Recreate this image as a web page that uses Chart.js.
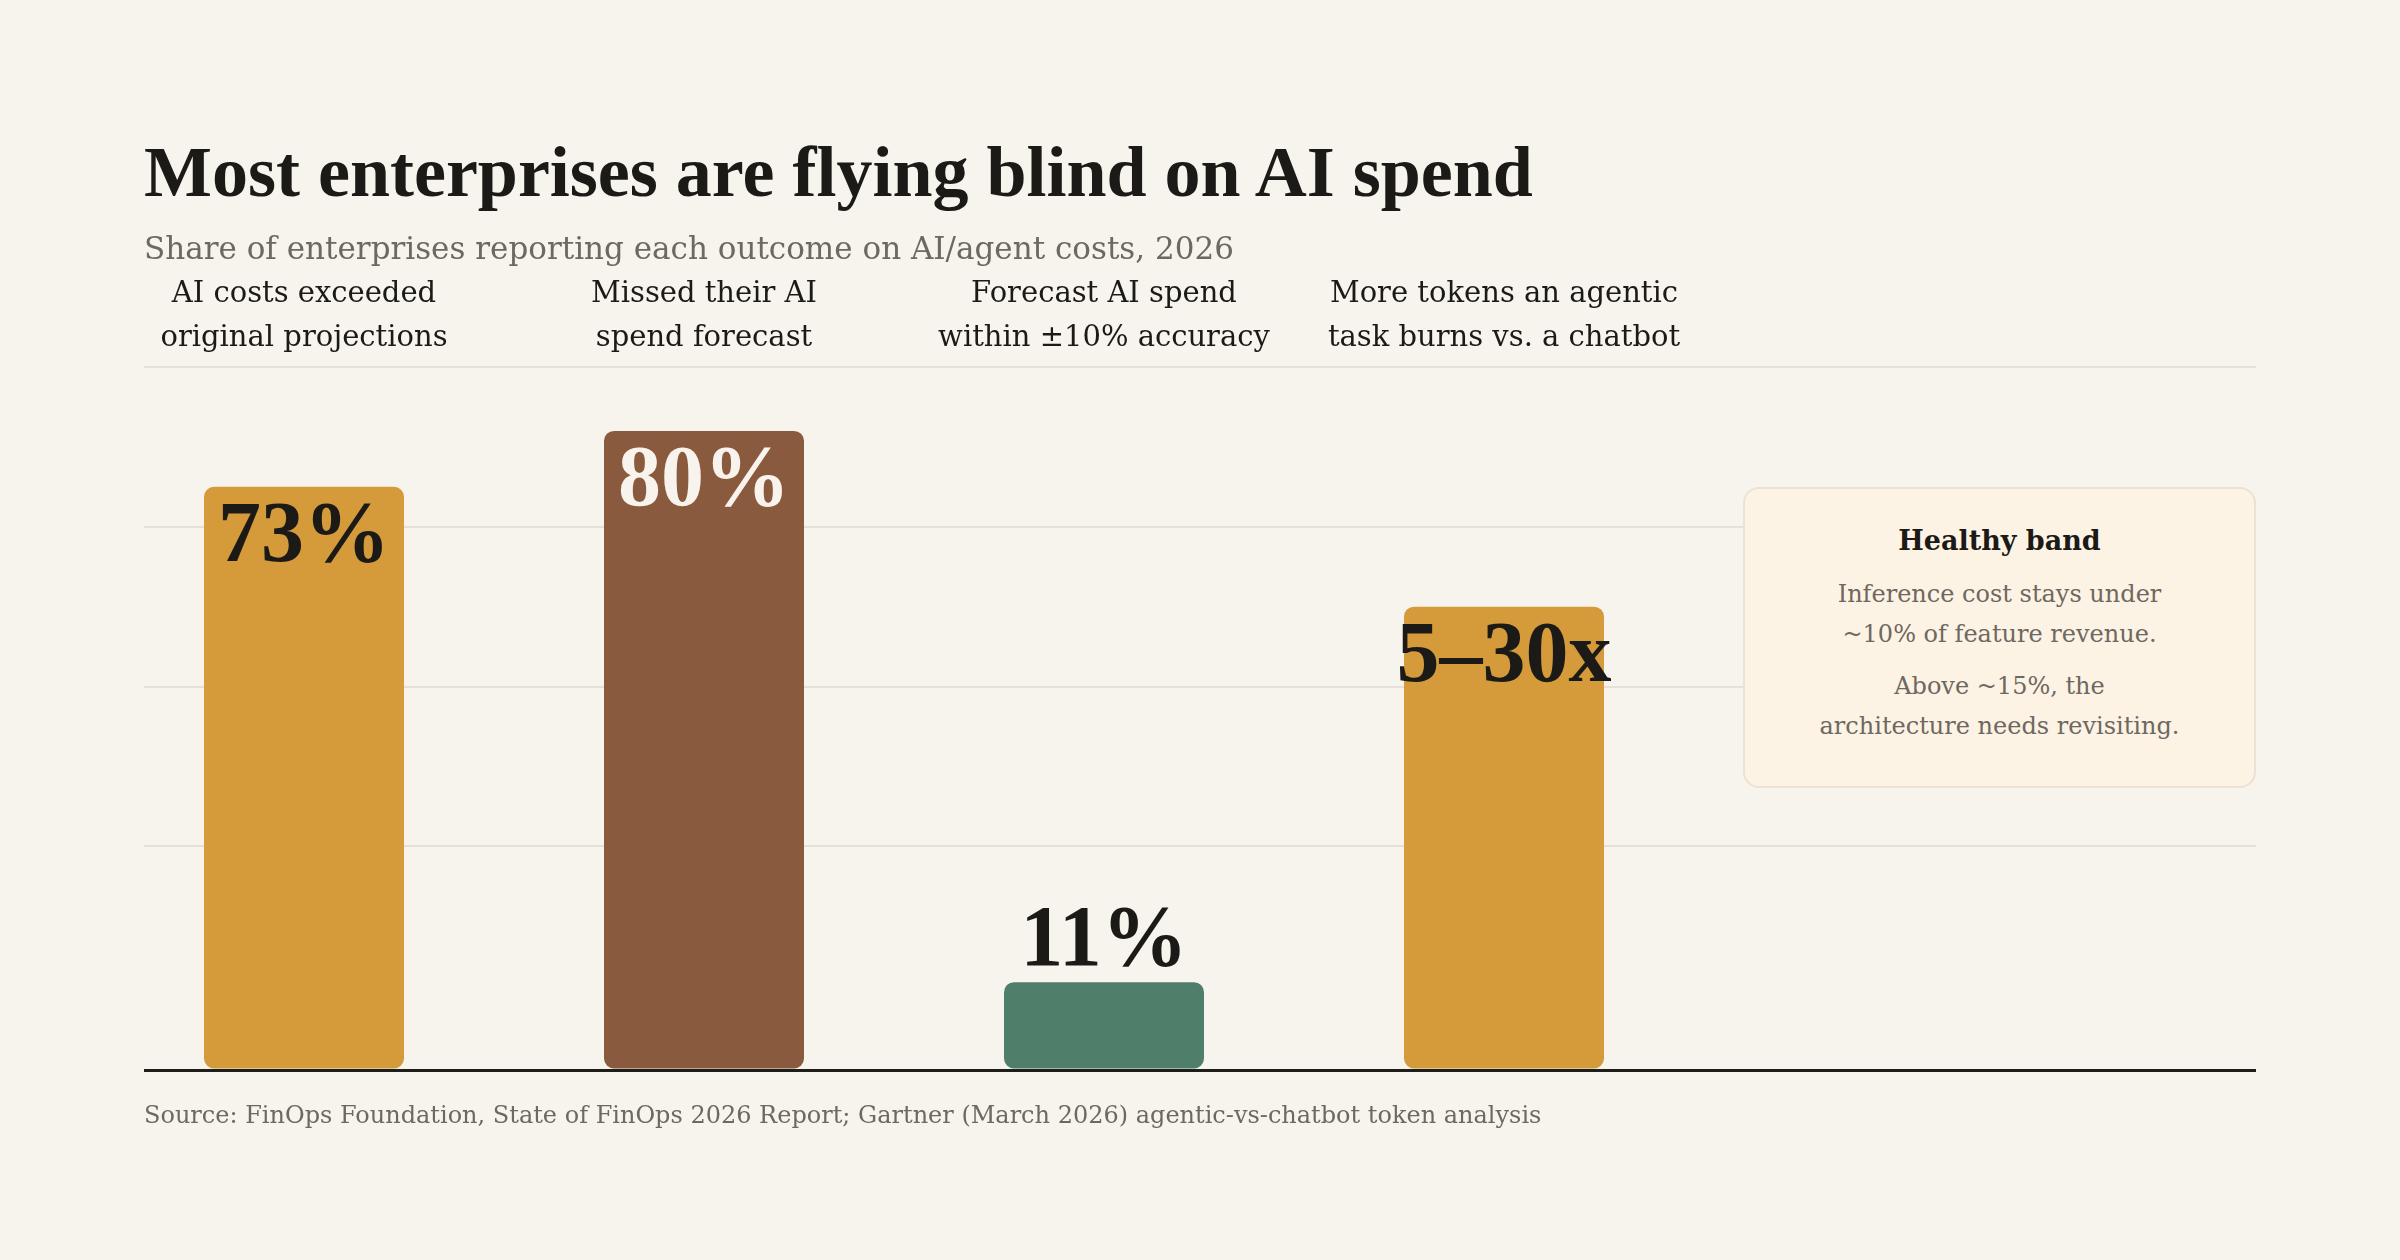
<!DOCTYPE html>
<html>
<head>
<meta charset="utf-8">
<script src="https://cdn.jsdelivr.net/npm/chart.js@4.4.1/dist/chart.umd.min.js"></script>
<style>
  body { margin: 0; background: #f7f4ee; }
  #page { position: relative; width: 2400px; height: 1260px; overflow: hidden;
          font-family: 'DejaVu Serif', Georgia, serif; }
  #c { position: absolute; left: 0; top: 0; }
  .txt { position: absolute; left: 144px; margin: 0; line-height: 1; white-space: nowrap; }
  #title { top: 136px; font-size: 72px; font-weight: 700; color: #1c1a17;
           font-family: 'Liberation Serif', Georgia, serif; }
  #subtitle { top: 233px; font-size: 31px; color: #6e6861; }
  #source { top: 1103px; font-size: 24px; color: #6e6861; }
  #card { position: absolute; left: 1743px; top: 487px; width: 509px; height: 297px;
          background: #fdf3e4; border: 2px solid #ebe2d4; border-radius: 16px;
          text-align: center; color: #6e6861; font-size: 24px; line-height: 40px; }
  #card h3 { margin: 32px 0 13px; font-size: 27px; color: #1c1a17; font-weight: 700; }
  #card p { margin: 0 0 12px; }
</style>
</head>
<body>
<div id="page">
  <canvas id="c" width="2400" height="1260" style="width:2400px;height:1260px"></canvas>
  <h1 class="txt" id="title">Most enterprises are flying blind on AI spend</h1>
  <div class="txt" id="subtitle">Share of enterprises reporting each outcome on AI/agent costs, 2026</div>
  <div id="card">
    <h3>Healthy band</h3>
    <p>Inference cost stays under<br>~10% of feature revenue.</p>
    <p>Above ~15%, the<br>architecture needs revisiting.</p>
  </div>
  <div class="txt" id="source">Source: FinOps Foundation, State of FinOps 2026 Report; Gartner (March 2026) agentic-vs-chatbot token analysis</div>
</div>
<script>
// chart data
const categories = [
  ['AI costs exceeded', 'original projections'],
  ['Missed their AI', 'spend forecast'],
  ['Forecast AI spend', 'within ±10% accuracy'],
  ['More tokens an agentic', 'task burns vs. a chatbot']
];
const values = [73, 80, 11, 58];
const valueText = ['73%', '80%', '11%', '5–30x'];
const gridValues = [0, 28, 48, 68, 88];

const barColors = ['#d59a3a', '#8a5a3e', '#4f7e6b', '#d59a3a'];
const labelColors = ['#1c1a17', '#f8f3ec', '#1c1a17', '#1c1a17'];

// draws the big value text on / above each bar
const valueLabels = {
  id: 'valueLabels',
  afterDatasetsDraw(chart) {
    const ctx = chart.ctx;
    const meta = chart.getDatasetMeta(0);
    ctx.save();
    ctx.font = "bold 86px 'Liberation Serif', Georgia, serif";
    ctx.textAlign = 'center';
    ctx.textBaseline = 'alphabetic';
    meta.data.forEach((bar, i) => {
      const h = bar.base - bar.y;
      if (h > 150) {
        ctx.fillStyle = labelColors[i];
        ctx.fillText(valueText[i], bar.x, bar.y + 74);
      } else {
        ctx.fillStyle = '#1c1a17';
        ctx.fillText(valueText[i], bar.x, bar.y - 17);
      }
    });
    ctx.restore();
  }
};

new Chart(document.getElementById('c'), {
  type: 'bar',
  data: {
    datasets: [{
      data: values.map((v, i) => ({ x: i, y: v })),
      backgroundColor: barColors,
      borderRadius: 10,
      borderSkipped: false,
      categoryPercentage: 1,
      barPercentage: 0.5,
    }]
  },
  plugins: [valueLabels],
  options: {
    responsive: false,
    animation: false,
    devicePixelRatio: 1,
    layout: { padding: { top: 227, left: 144, right: 144, bottom: 190 } },
    plugins: {
      legend: { display: false },
      tooltip: { enabled: false },
    },
    scales: {
      x: {
        type: 'linear',
        position: 'top',
        min: -0.4,
        max: 4.88,
        offset: false,
        afterBuildTicks: (scale) => { scale.ticks = categories.map((c, i) => ({ value: i })); },
        afterFit: (scale) => { scale.height = 140; },
        grid: { display: false, offset: false },
        border: { display: false },
        ticks: {
          autoSkip: false,
          maxRotation: 0,
          padding: -2,
          color: '#1c1a17',
          font: { family: "'DejaVu Serif', Georgia, serif", size: 29, lineHeight: 1.52 },
          callback: (value) => categories[value],
        }
      },
      y: {
        min: 0,
        max: 88,
        afterBuildTicks: (scale) => { scale.ticks = gridValues.map(v => ({ value: v })); },
        ticks: { display: false },
        border: { display: false },
        grid: {
          drawTicks: false,
          color: (c) => c.tick.value === 0 ? '#1f1d1a' : '#e6e0d6',
          lineWidth: (c) => c.tick.value === 0 ? 3 : 2,
        }
      }
    }
  }
});
</script>
</body>
</html>
